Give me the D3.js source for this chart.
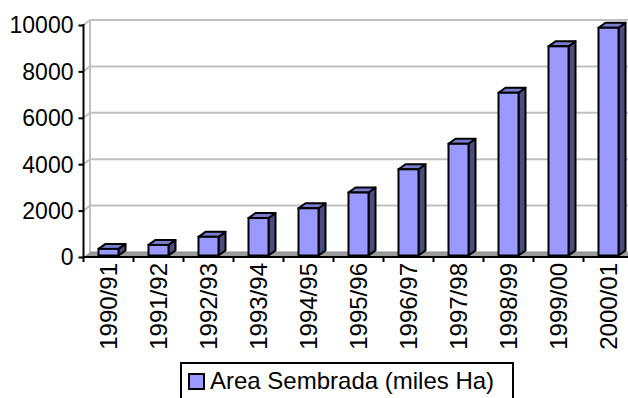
<!DOCTYPE html>
<html>
<head>
<meta charset="utf-8">
<script src="https://cdn.jsdelivr.net/npm/d3@7"></script>
<style>
  html, body { margin: 0; padding: 0; background: #fff; }
  svg { display: block; }
  text { font-family: "Liberation Sans", Arial, sans-serif; fill: #000; }
</style>
</head>
<body>
<div id="chart"></div>
<script>
// Campaigns and sown area (thousand hectares)
const campaigns = ["1990/91", "1991/92", "1992/93", "1993/94", "1994/95", "1995/96",
                   "1996/97", "1997/98", "1998/99", "1999/00", "2000/01"];
const sownArea = [350, 520, 870, 1680, 2100, 2780, 3780, 4880, 7080, 9080, 9880];
const yTicks = [0, 2000, 4000, 6000, 8000, 10000];
const seriesName = "Area Sembrada (miles Ha)";

const W = 628, H = 398;
const depthX = 6.5, depthY = -5;     // offset of the back wall
const barDX = 7, barDY = -5;         // depth of each column

const svg = d3.select("#chart").append("svg")
  .attr("width", W).attr("height", H);

const x = d3.scaleBand().domain(campaigns).range([83.5, 633.5]);
const y = d3.scaleLinear().domain([0, 10000]).range([257, 25]);

const plot = svg.append("g");

// floor
const x0 = x.range()[0], x1 = x.range()[1];
plot.append("polygon")
  .attr("points", [[x0, y(0)], [x1, y(0)], [x1 + depthX, y(0) + depthY], [x0 + depthX, y(0) + depthY]].join(" "))
  .attr("fill", "#9c9c9c");
plot.append("line")
  .attr("x1", x0 + depthX).attr("x2", x1 + depthX)
  .attr("y1", y(0) + depthY).attr("y2", y(0) + depthY)
  .attr("stroke", "#8a8a8a").attr("stroke-width", 1);

// back wall gridlines and side-wall segments
const grid = plot.append("g").attr("stroke", "#c0c0c0").attr("stroke-width", 2).attr("fill", "none");
yTicks.filter(d => d > 0).forEach(t => {
  grid.append("line")
    .attr("x1", x0 + depthX).attr("x2", W + 10)
    .attr("y1", y(t) + depthY).attr("y2", y(t) + depthY);
  grid.append("line")
    .attr("x1", x0).attr("x2", x0 + depthX)
    .attr("y1", y(t)).attr("y2", y(t) + depthY);
});
grid.append("line")
  .attr("x1", x0 + depthX).attr("x2", x0 + depthX)
  .attr("y1", y(10000) + depthY).attr("y2", y(0) + depthY);

// 3D columns
const bw = 20, off = 15;
const bars = plot.append("g").selectAll("g").data(campaigns).join("g");
bars.each(function(c, i) {
  const g = d3.select(this);
  const L = x(c) + off, R = L + bw;
  const T = y(sownArea[i]), B = y(0) - 1.5;
  // side face
  g.append("polygon")
    .attr("points", [[R, B], [R + barDX, B + barDY], [R + barDX, T + barDY], [R, T]].join(" "))
    .attr("fill", "#4c4c80").attr("stroke", "#000").attr("stroke-width", 2).attr("stroke-linejoin", "round");
  // top face
  g.append("polygon")
    .attr("points", [[L, T], [L + barDX, T + barDY], [R + barDX, T + barDY], [R, T]].join(" "))
    .attr("fill", "#7b7bcf").attr("stroke", "#000").attr("stroke-width", 2).attr("stroke-linejoin", "round");
  // front face
  g.append("rect")
    .attr("x", L).attr("y", T).attr("width", bw).attr("height", B - T)
    .attr("fill", "#9999ff").attr("stroke", "#000").attr("stroke-width", 2);
});

// value axis
const yAxis = svg.append("g").attr("transform", `translate(${x0},0)`)
  .call(d3.axisLeft(y).tickValues(yTicks).tickSize(5).tickPadding(5).tickFormat(d3.format("d")));
yAxis.select(".domain").attr("stroke", "#000").attr("stroke-width", 2)
  .attr("d", `M0,${y(10000) - 1}V${y(0)}`);
yAxis.selectAll(".tick line").attr("stroke", "#000").attr("stroke-width", 2);
yAxis.selectAll(".tick text").style("font-size", "23px")
  .attr("font-family", "Liberation Sans, Arial, sans-serif").attr("dy", "0.34em");

// category axis
const xAxis = svg.append("g").attr("transform", `translate(0,${y(0)})`);
xAxis.append("line").attr("x1", x0 - 1).attr("x2", W + 10).attr("y1", 0).attr("y2", 0)
  .attr("stroke", "#000").attr("stroke-width", 2);
xAxis.selectAll("line.tk").data(d3.range(campaigns.length + 1)).join("line")
  .attr("class", "tk")
  .attr("x1", i => x0 + i * x.step()).attr("x2", i => x0 + i * x.step())
  .attr("y1", 0).attr("y2", 5)
  .attr("stroke", "#000").attr("stroke-width", 2);
xAxis.selectAll("text").data(campaigns).join("text")
  .attr("transform", c => `translate(${x(c) + x.bandwidth() / 2},6) rotate(-90)`)
  .attr("text-anchor", "end").attr("dy", "0.36em")
  .style("font-size", "24px")
  .text(c => c);

// legend
const legend = svg.append("g");
legend.append("rect").attr("x", 181).attr("y", 363).attr("width", 332).attr("height", 40)
  .attr("fill", "#fff").attr("stroke", "#000").attr("stroke-width", 2);
legend.append("rect").attr("x", 189).attr("y", 374).attr("width", 15).attr("height", 15)
  .attr("fill", "#9999ff").attr("stroke", "#000").attr("stroke-width", 2);
legend.append("text").attr("x", 210).attr("y", 389).style("font-size", "24px").text(seriesName);
</script>
</body>
</html>
